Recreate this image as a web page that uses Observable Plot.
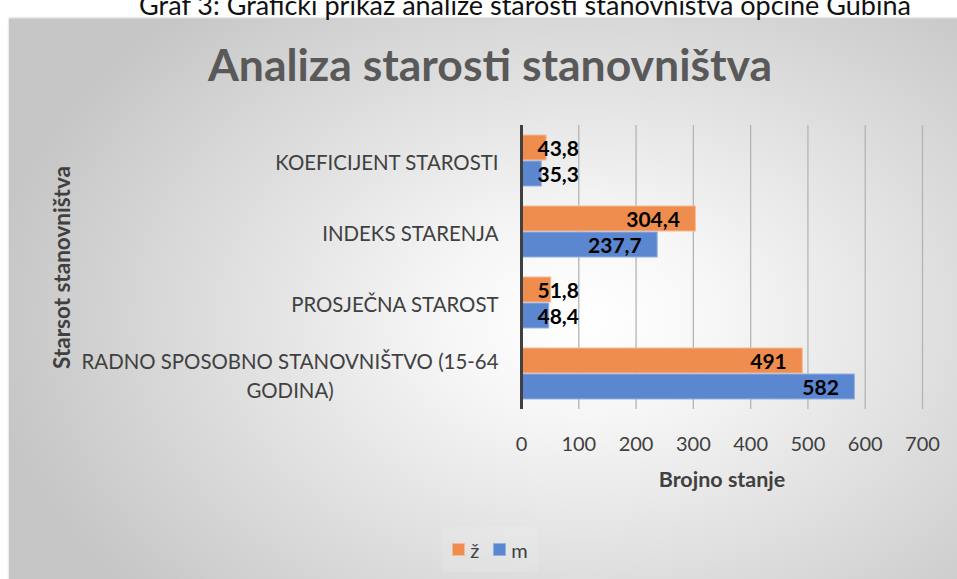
<!DOCTYPE html>
<html><head><meta charset="utf-8">
<script src="https://cdn.jsdelivr.net/npm/d3@7"></script>
<script src="https://cdn.jsdelivr.net/npm/@observablehq/plot@0.6"></script>
<style>
html,body{margin:0;padding:0;}
body{width:957px;height:579px;overflow:hidden;background:#fff;position:relative;font-family:Lato,"Open Sans",sans-serif;}
#frame{position:absolute;left:9px;top:19px;width:960px;height:600px;
  background:radial-gradient(ellipse 62% 70% at 60% 50%, #ffffff 0%, #f7f7f7 22%, #c6c6c6 100%);
  box-shadow:0 -1px 2px rgba(0,0,0,0.25);}
#caption{position:absolute;left:0;top:-9px;width:1050px;text-align:center;font-size:27px;line-height:28px;color:#111;white-space:nowrap;}
#title{position:absolute;left:0;top:38px;width:980px;text-align:center;font-size:44.5px;line-height:52px;font-weight:700;color:#595959;white-space:nowrap;}
#chart{position:absolute;left:0;top:100px;}
#legend{position:absolute;left:442px;top:527px;width:96px;height:45px;display:flex;align-items:center;justify-content:center;gap:6px;font-size:20px;color:#404040;background:rgba(255,255,255,0.12);}
.sw{display:inline-block;width:13px;height:13px;margin-right:5px;vertical-align:middle;box-sizing:border-box;}
.item{display:flex;align-items:center;margin:0 4px;}
</style>
</head><body>
<div id="frame"></div>
<div id="caption">Graf 3: Grafički prikaz analize starosti stanovništva općine Gubina</div>
<div id="title">Analiza starosti stanovništva</div>
<div id="chart"></div>
<div id="legend"></div>
<script>
const categories = ["KOEFICIJENT STAROSTI", "INDEKS STARENJA", "PROSJEČNA STAROST", "RADNO SPOSOBNO STANOVNIŠTVO (15-64 GODINA)"];
const categoryLabels = ["KOEFICIJENT STAROSTI", "INDEKS STARENJA", "PROSJEČNA STAROST", "RADNO SPOSOBNO STANOVNIŠTVO (15-64\nGODINA)"];
const series = ["ž", "m"];
const zValues = [43.8, 304.4, 51.8, 491];
const mValues = [35.3, 237.7, 48.4, 582];
const xTicks = [0, 100, 200, 300, 400, 500, 600, 700];
const xTitle = "Brojno stanje";
const yTitle = "Starsot stanovništva";
const fills = ["#ef8d4f", "#5b86d0"];
const strokes = ["#f7b995", "#93b0e2"];

const data = categories.flatMap((c, i) => [
  {cat: c, sex: "ž", value: zValues[i]},
  {cat: c, sex: "m", value: mValues[i]}
]);
const labels = categories.map((c, i) => ({cat: c, label: categoryLabels[i]}));
const fmt = v => String(v).replace(".", ",");

const plot = Plot.plot({
  width: 957,
  height: 400,
  marginLeft: 521,
  marginRight: 35,
  marginTop: 24,
  marginBottom: 90,
  style: {fontFamily: "Lato, 'Open Sans', sans-serif", fontSize: "20px", color: "#595959", background: "transparent", overflow: "visible"},
  x: {domain: [0, 700]},
  y: {domain: series, paddingInner: 0.02, paddingOuter: 0.34, axis: null},
  fy: {domain: categories, padding: 0, axis: null},
  color: {domain: series, range: fills},
  marks: [
    Plot.gridX(xTicks, {stroke: "#b4b4b4", strokeOpacity: 1, strokeWidth: 1.3}),
    Plot.barX(data, {x: "value", y: "sex", fy: "cat", fill: "sex", stroke: d => strokes[series.indexOf(d.sex)], strokeWidth: 1, inset: 0}),
    Plot.ruleX([0], {stroke: "#404040", strokeWidth: 3}),
    Plot.text(data.filter(d => d.value > 100), {x: "value", y: "sex", fy: "cat", text: d => fmt(d.value), textAnchor: "end", dx: -16, dy: 1, fill: "#000", fontWeight: 700, fontSize: 21}),
    Plot.text(data.filter(d => d.value <= 100), {x: 0, y: "sex", fy: "cat", text: d => fmt(d.value), textAnchor: "start", dx: 16, dy: 1, fill: "#000", fontWeight: 700, fontSize: 21}),
    Plot.text(labels, {fy: "cat", frameAnchor: "left", text: "label", textAnchor: "end", dx: -23, lineHeight: 1.45, fill: "#404040", fontSize: 20.4}),
    Plot.axisX(xTicks, {tickSize: 0, tickPadding: 27, fill: "#404040", fontSize: 20, label: xTitle, labelArrow: "none", labelAnchor: "center", labelOffset: 77}),
    Plot.axisFy({anchor: "left", ticks: [], tickSize: 0, label: yTitle, labelArrow: "none", labelAnchor: "center", labelOffset: 467, fill: "#404040", fontSize: 22.5})
  ]
});
document.getElementById("chart").appendChild(plot);

// axis titles: bold, no arrow
plot.querySelectorAll("text").forEach(t => {
  const s = t.textContent;
  if (s.includes(xTitle) || s.includes(yTitle)) {
    t.textContent = s.replace(/\s*[→←↑↓]\s*/g, "");
    t.setAttribute("font-weight", "700");
    t.style.fontWeight = "700";
    if (s.includes(xTitle)) t.style.fontSize = "21.5px";
  }
});

// center multi-line category labels on their own width (right edge fixed)
plot.querySelectorAll("text").forEach(t => {
  const spans = [...t.querySelectorAll("tspan")];
  if (spans.length > 1) {
    const w = Math.max(...spans.map(s => s.getComputedTextLength()));
    t.setAttribute("text-anchor", "middle");
    spans.forEach(s => s.setAttribute("x", -w / 2));
  }
});

const legend = document.getElementById("legend");
series.forEach((s, i) => {
  const it = document.createElement("span");
  it.className = "item";
  it.innerHTML = `<span class="sw" style="background:${fills[i]};border:1px solid ${strokes[i]}"></span>${s}`;
  legend.appendChild(it);
});
</script>
</body></html>
